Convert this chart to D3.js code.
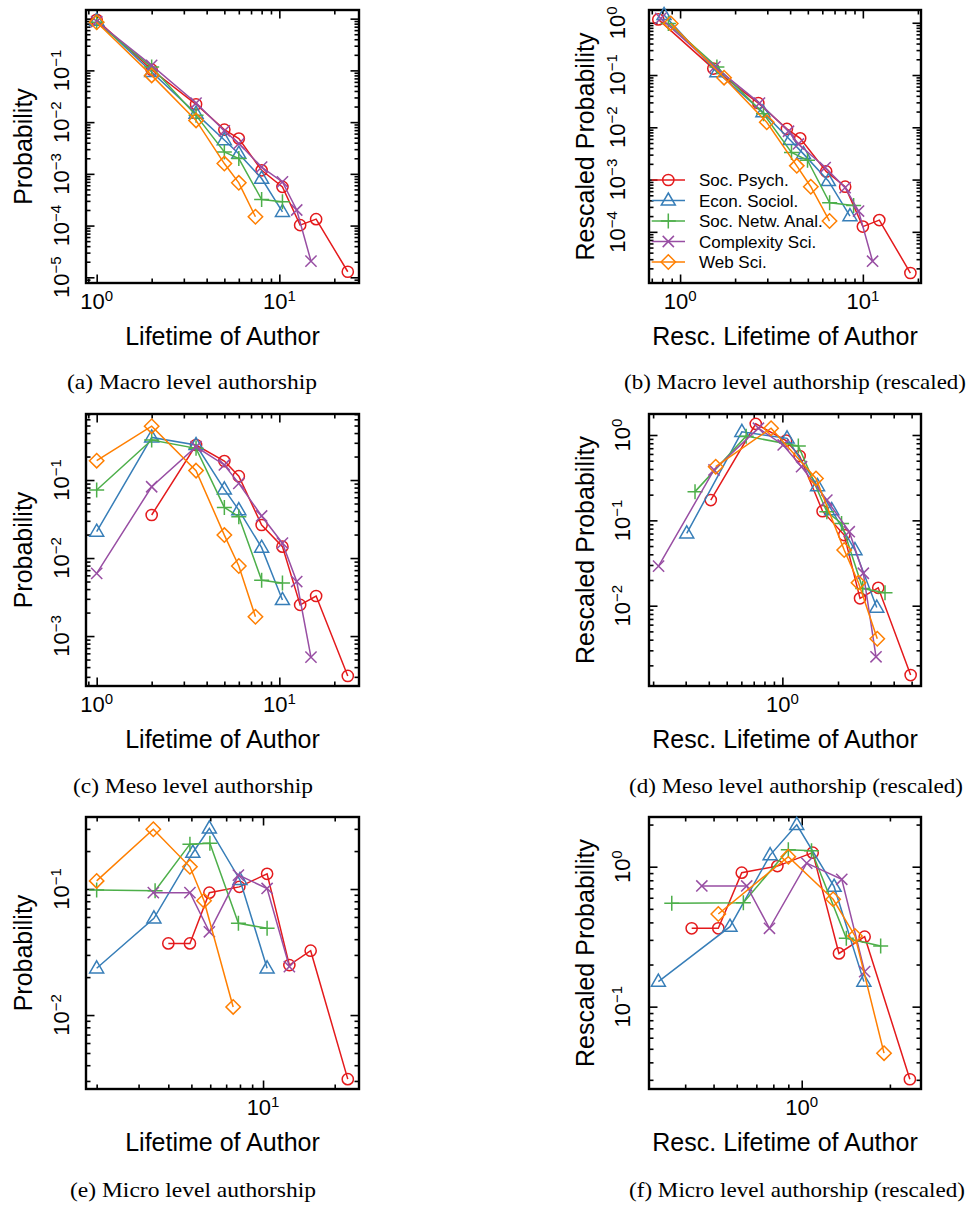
<!DOCTYPE html>
<html><head><meta charset="utf-8">
<script src="https://cdn.jsdelivr.net/npm/d3@7"></script>
<style>body{margin:0;background:#fff} svg{display:block}</style>
</head><body>
<svg id="chart" width="974" height="1207"></svg>
<script>
// ---------------- DATA ----------------
const seriesNames = ["Soc. Psych.", "Econ. Sociol.", "Soc. Netw. Anal.", "Complexity Sci.", "Web Sci."];

// (a) Macro level authorship
const macroPsychX = [1, 2, 3.5, 5, 6, 8, 10.4, 13, 15.9, 23.7];
const macroPsychY = [0.95, 0.103, 0.0221, 0.00716, 0.0048, 0.00117, 5.6e-4, 1.02e-4, 1.33e-4, 1.28e-5];
const macroEconX = [1, 2, 3.5, 5, 6, 8, 10.4];
const macroEconY = [0.92, 0.093, 0.0146, 0.0045, 0.00245, 8.1e-4, 1.84e-4];
const macroSnaX = [1, 2, 3.5, 5, 6, 8, 10.4];
const macroSnaY = [0.85, 0.116, 0.0135, 0.00265, 0.00197, 3.19e-4, 2.88e-4];
const macroComplX = [1, 2, 3.5, 5, 6, 8, 10.4, 12.45, 14.9];
const macroComplY = [0.88, 0.125, 0.0234, 0.0068, 0.00385, 0.00135, 6.98e-4, 2.0e-4, 2.06e-5];
const macroWebX = [1, 2, 3.5, 5, 6, 7.4];
const macroWebY = [0.85, 0.08, 0.0108, 0.00158, 6.7e-4, 1.48e-4];

// (b) Macro rescaled
const macroResPsychX = [0.76, 1.52, 2.68, 3.84, 4.54, 6.3, 8.0, 10.0, 12.3, 18.2];
const macroResPsychY = [1.16, 0.133, 0.029, 0.00932, 0.00615, 0.00143, 7.3e-4, 1.26e-4, 1.68e-4, 1.63e-5];
const macroResEconX = [0.817, 1.59, 2.84, 4.0, 4.73, 6.48, 8.5];
const macroResEconY = [1.41, 0.114, 0.0195, 0.00572, 0.0031, 9.4e-4, 2.0e-4];
const macroResSnaX = [0.863, 1.59, 2.86, 4.07, 4.98, 6.58, 8.9];
const macroResSnaY = [0.97, 0.143, 0.0181, 0.0033, 0.00234, 3.6e-4, 3.2e-4];
const macroResComplX = [0.784, 1.55, 2.72, 3.92, 4.44, 6.22, 8.0, 9.47, 11.3];
const macroResComplY = [1.21, 0.143, 0.029, 0.0084, 0.0048, 0.0017, 7.0e-4, 2.5e-4, 2.74e-5];
const macroResWebX = [0.889, 1.74, 2.98, 4.35, 5.19, 6.57];
const macroResWebY = [0.97, 0.089, 0.0125, 0.00183, 7.3e-4, 1.61e-4];

// (c) Meso level authorship
const mesoPsychX = [2, 3.5, 5, 6, 8, 10.4, 13, 15.9, 23.7];
const mesoPsychY = [0.0356, 0.281, 0.175, 0.112, 0.0265, 0.014, 0.00251, 0.00326, 3.08e-4];
const mesoEconX = [1, 2, 3.5, 5, 6, 8, 10.4];
const mesoEconY = [0.0218, 0.352, 0.281, 0.076, 0.0412, 0.0136, 0.0029];
const mesoSnaX = [1, 2, 3.5, 5, 6, 8, 10.4];
const mesoSnaY = [0.0744, 0.326, 0.255, 0.0446, 0.0339, 0.0052, 0.0048];
const mesoComplX = [1, 2, 3.5, 5, 6, 8, 10.4, 12.45, 14.9];
const mesoComplY = [0.00637, 0.082, 0.267, 0.156, 0.0906, 0.0346, 0.0155, 0.005, 5.37e-4];
const mesoWebX = [1, 2, 3.5, 5, 6, 7.4];
const mesoWebY = [0.177, 0.49, 0.132, 0.0197, 0.0079, 0.00177];

// (d) Meso rescaled
const mesoResPsychX = [0.41, 0.718, 1.047, 1.24, 1.65, 2.16, 2.63, 3.3, 4.94];
const mesoResPsychY = [0.173, 1.35, 0.857, 0.567, 0.128, 0.0673, 0.0122, 0.0162, 0.00154];
const mesoResEconX = [0.304, 0.604, 1.06, 1.55, 1.85, 2.47, 3.24];
const mesoResEconY = [0.0704, 1.09, 0.914, 0.252, 0.132, 0.0449, 0.0095];
const mesoResSnaX = [0.337, 0.637, 1.22, 1.74, 2.09, 2.72, 3.59];
const mesoResSnaY = [0.217, 0.97, 0.743, 0.126, 0.092, 0.0159, 0.0142];
const mesoResComplX = [0.214, 0.427, 0.742, 1.01, 1.27, 1.74, 2.3, 2.74, 3.21];
const mesoResComplY = [0.0291, 0.389, 1.2, 0.764, 0.425, 0.173, 0.0736, 0.024, 0.00252];
const mesoResWebX = [0.436, 0.869, 1.52, 2.16, 2.58, 3.26];
const mesoResWebY = [0.425, 1.2, 0.31, 0.0449, 0.0186, 0.0041];

// (e) Micro level authorship
const microPsychX = [4.0, 4.93, 5.95, 7.95, 10.4, 12.9, 15.85, 22.7];
const microPsychY = [0.037, 0.037, 0.0935, 0.104, 0.132, 0.0249, 0.0324, 0.0031];
const microEconX = [2.0, 3.48, 5.07, 5.95, 8.0, 10.4];
const microEconY = [0.0235, 0.0585, 0.194, 0.303, 0.118, 0.0235];
const microSnaX = [2.0, 3.52, 4.93, 5.98, 7.88, 10.4];
const microSnaY = [0.098, 0.097, 0.227, 0.231, 0.0534, 0.0488];
const microComplX = [3.46, 4.93, 5.95, 7.88, 10.4, 12.9];
const microComplY = [0.0935, 0.0935, 0.0458, 0.129, 0.101, 0.0242];
const microWebX = [2.0, 3.46, 4.93, 5.65, 7.49];
const microWebY = [0.116, 0.298, 0.150, 0.0807, 0.0116];

// (f) Micro rescaled
const microResPsychX = [0.421, 0.519, 0.624, 0.826, 1.09, 1.34, 1.64, 2.34];
const microResPsychY = [0.363, 0.363, 0.906, 1.01, 1.26, 0.24, 0.316, 0.0303];
const microResEconX = [0.324, 0.569, 0.78, 0.962, 1.29, 1.63];
const microResEconY = [0.151, 0.373, 1.21, 1.99, 0.72, 0.151];
const microResSnaX = [0.36, 0.632, 0.9, 1.08, 1.42, 1.86];
const microResSnaY = [0.548, 0.553, 1.32, 1.3, 0.308, 0.271];
const microResComplX = [0.456, 0.649, 0.776, 1.04, 1.37, 1.64];
const microResComplY = [0.728, 0.728, 0.363, 1.06, 0.813, 0.178];
const microResWebX = [0.519, 0.9, 1.28, 1.52, 1.91];
const microResWebY = [0.459, 1.18, 0.585, 0.32, 0.0465];

// tick label exponents
const xLabelExpA = [0, 1], yLabelExpA = [-1, -2, -3, -4, -5];
const xLabelExpB = [0, 1], yLabelExpB = [0, -1, -2, -3, -4];
const xLabelExpC = [0, 1], yLabelExpC = [-1, -2, -3];
const xLabelExpD = [0],    yLabelExpD = [0, -1, -2];
const xLabelExpE = [1],    yLabelExpE = [-1, -2];
const xLabelExpF = [0],    yLabelExpF = [0, -1];

const captions = ["(a) Macro level authorship", "(b) Macro level authorship (rescaled)",
                  "(c) Meso level authorship", "(d) Meso level authorship (rescaled)",
                  "(e) Micro level authorship", "(f) Micro level authorship (rescaled)"];

// ---------------- STYLE ----------------
const colors = ["#e41a1c", "#377eb8", "#4daf4a", "#984ea3", "#ff7f00"];
const shapes = ["circle", "triangle", "plus", "cross", "diamond"];
const SANS = "'Liberation Sans', Arial, Helvetica, sans-serif";
const SERIF = "'Liberation Serif', 'Times New Roman', serif";

const svg = d3.select("#chart");

function markerPath(shape) {
  switch (shape) {
    case "circle": return "M5.6,0A5.6,5.6 0 1,1 -5.6,0A5.6,5.6 0 1,1 5.6,0Z";
    case "triangle": return "M0,-7.5L7,4.6L-7,4.6Z";
    case "plus": return "M-7.5,0H7.5M0,-7.5V7.5";
    case "cross": return "M-5.6,-5.6L5.6,5.6M-5.6,5.6L5.6,-5.6";
    case "diamond": return "M0,-7.2L7.2,0L0,7.2L-7.2,0Z";
  }
}

function logTicks(dom) {
  const [a, b] = dom;
  const lo = Math.floor(Math.log10(a)), hi = Math.ceil(Math.log10(b));
  const major = [], minor = [];
  for (let k = lo; k <= hi; k++) for (let m = 1; m <= 9; m++) {
    const v = m * Math.pow(10, k);
    if (v >= a * 0.9999 && v <= b * 1.0001) (m === 1 ? major : minor).push(v);
  }
  return { major, minor };
}

function sup(sel, exp) {
  sel.append("tspan").text("10");
  sel.append("tspan").attr("dy", -8.5).attr("font-size", 15)
     .text(exp < 0 ? "\u2212" + Math.abs(exp) : String(exp));
}

function drawPanel(p) {
  const g = svg.append("g");
  const x = d3.scaleLog().domain(p.xDomain).range([p.left, p.right]);
  const y = d3.scaleLog().domain(p.yDomain).range([p.bottom, p.top]);
  const xt = logTicks(p.xDomain), yt = logTicks(p.yDomain);

  const addAxis = (axisGen, scale, vals, size, tr) => {
    const a = g.append("g").attr("transform", tr)
      .call(axisGen(scale).tickValues(vals).tickSize(-size).tickSizeOuter(0).tickFormat(""));
    a.select(".domain").remove();
    a.selectAll("line").attr("stroke", "#000").attr("stroke-width", 1.6);
  };
  [[xt.major, 8.5], [xt.minor, 4.5]].forEach(([v, s]) => {
    addAxis(d3.axisBottom, x, v, s, `translate(0,${p.bottom})`);
    addAxis(d3.axisTop, x, v, s, `translate(0,${p.top})`);
  });
  [[yt.major, 8.5], [yt.minor, 4.5]].forEach(([v, s]) => {
    addAxis(d3.axisLeft, y, v, s, `translate(${p.left},0)`);
    addAxis(d3.axisRight, y, v, s, `translate(${p.right},0)`);
  });

  // frame
  g.append("rect").attr("x", p.left).attr("y", p.top)
    .attr("width", p.right - p.left).attr("height", p.bottom - p.top)
    .attr("fill", "none").attr("stroke", "#000").attr("stroke-width", 2.4);

  // tick labels
  p.xLabels.forEach(e => {
    g.append("text").attr("x", x(Math.pow(10, e))).attr("y", p.bottom + 26)
      .attr("text-anchor", "middle").attr("font-family", SANS).attr("font-size", 22)
      .call(s => sup(s, e));
  });
  p.yLabels.forEach(e => {
    g.append("text").attr("transform", `translate(${p.yLabelX},${y(Math.pow(10, e))}) rotate(-90)`)
      .attr("text-anchor", "middle").attr("font-family", SANS).attr("font-size", 22)
      .call(s => sup(s, e));
  });

  // axis titles
  g.append("text").attr("x", (p.left + p.right) / 2).attr("y", p.bottom + 62)
    .attr("text-anchor", "middle").attr("font-family", SANS).attr("font-size", 25)
    .text(p.xTitle);
  g.append("text").attr("transform", `translate(${p.yTitleX},${(p.top + p.bottom) / 2}) rotate(-90)`)
    .attr("text-anchor", "middle").attr("font-family", SANS).attr("font-size", 25)
    .text(p.yTitle);

  // series
  const line = d3.line().x(d => x(d[0])).y(d => y(d[1]));
  p.series.forEach((s, i) => {
    const data = d3.zip(s[0], s[1]);
    const sg = g.append("g");
    sg.append("path").attr("d", line(data)).attr("fill", "none")
      .attr("stroke", colors[i]).attr("stroke-width", 1.5);
    sg.selectAll("path.m").data(data).join("path").attr("class", "m")
      .attr("transform", d => `translate(${x(d[0])},${y(d[1])})`)
      .attr("d", markerPath(shapes[i])).attr("fill", "none")
      .attr("stroke", colors[i]).attr("stroke-width", 1.5);
  });

  // caption
  g.append("text").attr("x", p.capX).attr("y", p.capY).attr("text-anchor", "middle")
    .attr("font-family", SERIF).attr("font-size", 22)
    .attr("textLength", p.capLen).attr("lengthAdjust", "spacingAndGlyphs")
    .text(p.caption);

  return { x, y, g };
}

const L = { left: 86, right: 359 }, R = { left: 649, right: 921 };
const rows = [{ top: 10, bottom: 283, capY: 389 }, { top: 414, bottom: 686, capY: 793 }, { top: 817, bottom: 1089, capY: 1197 }];

const panels = [
  { ...L, ...rows[0], xDomain: [0.874, 27.3], yDomain: [7.76e-6, 1.47], xLabels: xLabelExpA, yLabels: yLabelExpA,
    yLabelX: 69, yTitleX: 32, xTitle: "Lifetime of Author", yTitle: "Probability",
    series: [[macroPsychX, macroPsychY], [macroEconX, macroEconY], [macroSnaX, macroSnaY], [macroComplX, macroComplY], [macroWebX, macroWebY]],
    caption: captions[0], capX: 192, capLen: 250 },
  { ...R, ...rows[0], xDomain: [0.676, 20.8], yDomain: [1.05e-5, 1.754], xLabels: xLabelExpB, yLabels: yLabelExpB,
    yLabelX: 625, yTitleX: 594, xTitle: "Resc. Lifetime of Author", yTitle: "Rescaled Probability",
    series: [[macroResPsychX, macroResPsychY], [macroResEconX, macroResEconY], [macroResSnaX, macroResSnaY], [macroResComplX, macroResComplY], [macroResWebX, macroResWebY]],
    caption: captions[1], capX: 795, capLen: 342 },
  { ...L, ...rows[1], xDomain: [0.874, 27.3], yDomain: [2.29e-4, 0.702], xLabels: xLabelExpC, yLabels: yLabelExpC,
    yLabelX: 69, yTitleX: 32, xTitle: "Lifetime of Author", yTitle: "Probability",
    series: [[mesoPsychX, mesoPsychY], [mesoEconX, mesoEconY], [mesoSnaX, mesoSnaY], [mesoComplX, mesoComplY], [mesoWebX, mesoWebY]],
    caption: captions[2], capX: 193, capLen: 240 },
  { ...R, ...rows[1], xDomain: [0.19, 5.62], yDomain: [1.146e-3, 1.762], xLabels: xLabelExpD, yLabels: yLabelExpD,
    yLabelX: 630, yTitleX: 594, xTitle: "Resc. Lifetime of Author", yTitle: "Rescaled Probability",
    series: [[mesoResPsychX, mesoResPsychY], [mesoResEconX, mesoResEconY], [mesoResSnaX, mesoResSnaY], [mesoResComplX, mesoResComplY], [mesoResWebX, mesoResWebY]],
    caption: captions[3], capX: 796, capLen: 334 },
  { ...L, ...rows[2], xDomain: [1.804, 25.3], yDomain: [2.59e-3, 0.3727], xLabels: xLabelExpE, yLabels: yLabelExpE,
    yLabelX: 69, yTitleX: 32, xTitle: "Lifetime of Author", yTitle: "Probability",
    series: [[microPsychX, microPsychY], [microEconX, microEconY], [microSnaX, microSnaY], [microComplX, microComplY], [microWebX, microWebY]],
    caption: captions[4], capX: 193, capLen: 246 },
  { ...R, ...rows[2], xDomain: [0.301, 2.554], yDomain: [0.0258, 2.265], xLabels: xLabelExpF, yLabels: yLabelExpF,
    yLabelX: 630, yTitleX: 594, xTitle: "Resc. Lifetime of Author", yTitle: "Rescaled Probability",
    series: [[microResPsychX, microResPsychY], [microResEconX, microResEconY], [microResSnaX, microResSnaY], [microResComplX, microResComplY], [microResWebX, microResWebY]],
    caption: captions[5], capX: 797, capLen: 336 }
];

const drawn = panels.map(drawPanel);

// legend in panel (b)
const lg = drawn[1].g.append("g");
const legY = d3.scaleLinear().domain([0, 4]).range([180, 262]);
seriesNames.forEach((name, i) => {
  const yy = legY(i);
  lg.append("line").attr("x1", 651.7).attr("x2", 685).attr("y1", yy).attr("y2", yy)
    .attr("stroke", colors[i]).attr("stroke-width", 1.5);
  lg.append("path").attr("transform", `translate(668.3,${yy})`).attr("d", markerPath(shapes[i]))
    .attr("fill", "none").attr("stroke", colors[i]).attr("stroke-width", 1.5);
  lg.append("text").attr("x", 699).attr("y", yy + 6).attr("font-family", SANS).attr("font-size", 17)
    .text(name);
});
</script>
</body></html>
